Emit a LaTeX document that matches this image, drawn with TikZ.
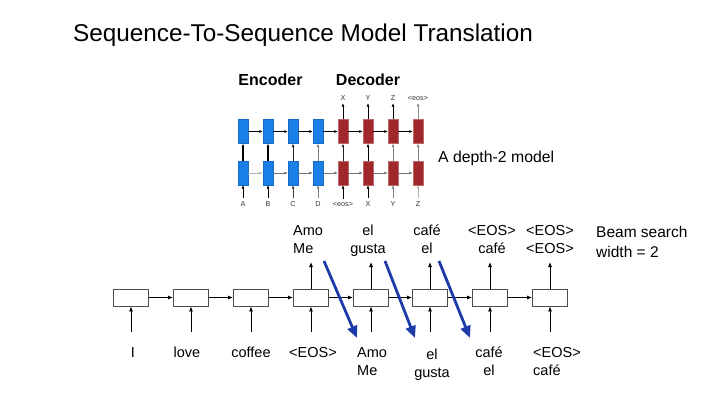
\documentclass[tikz,border=0pt]{standalone}
\usepackage{fontspec}
\setmainfont{Liberation Sans}
\usetikzlibrary{arrows.meta}
\definecolor{encblue}{RGB}{27,127,232}
\definecolor{decred}{RGB}{160,40,42}
\definecolor{beamblue}{RGB}{28,58,168}
\begin{document}
\begin{tikzpicture}[x=1pt,y=-1pt,
  lbl/.style={font=\fontsize{14.5}{18}\selectfont, align=center, inner sep=0, anchor=base},
  rnn/.style={draw=black!70, line width=0.9pt, minimum width=35pt, minimum height=17pt, inner sep=0},
  arr/.style={-{Latex[length=5pt,width=4pt]}, line width=0.8pt},
  beam/.style={draw=beamblue, line width=2.8pt, -{Triangle[length=12pt,width=10pt]}},
  ebox/.style={fill=encblue, draw=encblue!85!black, line width=0.3pt, minimum width=10pt, minimum height=24pt, inner sep=0},
  dbox/.style={fill=decred, draw=decred!70!white, line width=0.4pt, minimum width=10pt, minimum height=24pt, inner sep=0},
  tarr/.style={-{Latex[length=3.5pt,width=3pt]}, line width=1pt},
  tlbl/.style={font=\fontsize{7.2}{8}\selectfont, text=black!80, inner sep=0}]
\useasboundingbox (0,0) rectangle (720,405);

% titles
\node[font=\fontsize{24.3}{29}\selectfont, anchor=base west, inner sep=0] (title) at (73,41) {Sequence-To-Sequence Model Translation};
\node[font=\fontsize{16}{19}\bfseries\selectfont, anchor=base, inner sep=0] (enc) at (270.5,85) {Encoder};
\node[font=\fontsize{16}{19}\bfseries\selectfont, anchor=base, inner sep=0] (dec) at (368,85) {Decoder};
\node[font=\fontsize{15.8}{19}\selectfont, anchor=base west, inner sep=0] (depth) at (438,162) {A depth-2 model};

% top figure boxes
\foreach \i/\x in {1/243,2/268,3/293,4/318} {
  \node[ebox] (t\i) at (\x,131.5) {};
  \node[ebox] (b\i) at (\x,173) {};
}
\foreach \i/\x in {5/343,6/368,7/393,8/418} {
  \node[dbox] (t\i) at (\x,131.5) {};
  \node[dbox] (b\i) at (\x,173) {};
}
% horizontal arrows
\foreach \a/\b in {1/2,2/3,3/4,4/5,5/6,6/7,7/8} {
  \draw[tarr] (t\a) -- (t\b);
}
\draw[tarr, black!30] (b1) -- (b2);
\foreach \a/\b in {2/3,3/4,4/5,5/6,6/7,7/8} {
  \draw[tarr, black!55] (b\a) -- (b\b);
}
% vertical arrows between rows
\foreach \i/\c/\w in {1/black/1.6pt,2/black/1.6pt,3/black!85/1pt,4/black!50/1pt,5/black!85/1pt,6/black/1pt,7/black!50/1pt,8/black!50/1pt} {
  \draw[tarr, \c, line width=\w] (b\i) -- (t\i);
}
% inputs
\foreach \i/\x/\t/\c in {1/243/A/black,2/268/B/black,3/293/C/black!75,4/318/D/black!50,5/343/{<eos>}/black,6/368/X/black,7/393/Y/black!50,8/418/Z/black!30} {
  \node[tlbl] (in\i) at (\x,204) {\t};
  \draw[tarr, \c] ([yshift=3pt]in\i.north) -- (b\i.south);
}
% outputs
\foreach \i/\x/\t/\c in {5/343/X/black,6/368/Y/black,7/393/Z/black,8/418/{<eos>}/black!45} {
  \node[tlbl] (out\i) at (\x,98.5) {\t};
  \draw[tarr, \c] (t\i.north) -- ([yshift=-2pt]out\i.south);
}

% bottom RNN
\foreach \i/\x in {1/131,2/191,3/251,4/311,5/371,6/430,7/490,8/550} {
  \node[rnn] (r\i) at (\x,297.5) {};
  \coordinate (ri\i) at (\x,332);
  \draw[arr] (ri\i) -- (r\i.south);
}
\foreach \a/\b in {1/2,2/3,3/4,4/5,5/6,6/7,7/8} {
  \draw[arr] (r\a) -- (r\b);
}
\foreach \i/\x in {4/311,5/371,6/430,7/490,8/550} {
  \coordinate (ro\i) at (\x,262);
  \draw[arr] (r\i.north) -- (ro\i);
}

% bottom input labels (multi-line nodes: base = last line)
\node[lbl] (l1) at (133,357) {I};
\node[lbl] (l2) at (187,357) {love};
\node[lbl] (l3) at (251,357) {coffee};
\node[lbl] (l4) at (313,357) {<EOS>};
\node[lbl, align=left, anchor=base west] (l5) at (357,375) {Amo\\Me};
\node[lbl] (l6) at (432,377) {el\\gusta};
\node[lbl] (l7) at (489,375) {café\\el};
\node[lbl, align=left, anchor=base west] (l8) at (533,375) {<EOS>\\café};

% top output labels
\node[lbl, align=left, anchor=base west] (o4) at (293,253) {Amo\\Me};
\node[lbl] (o5) at (368,253) {el\\gusta};
\node[lbl] (o6) at (427,253) {café\\el};
\node[lbl] (o7) at (492,253) {<EOS>\\café};
\node[lbl] (o8) at (550,253) {<EOS>\\<EOS>};
\node[font=\fontsize{15.5}{20}\selectfont, align=left, anchor=base west, inner sep=0] (bs) at (596,257) {Beam search\\width = 2};

% beam arrows
\coordinate (b1s) at (324,261); \coordinate (b1e) at (357,338);
\coordinate (b2s) at (385,261); \coordinate (b2e) at (415,338);
\coordinate (b3s) at (439,261); \coordinate (b3e) at (470,338);
\draw[beam] (b1s) -- (b1e);
\draw[beam] (b2s) -- (b2e);
\draw[beam] (b3s) -- (b3e);
\end{tikzpicture}
\end{document}
